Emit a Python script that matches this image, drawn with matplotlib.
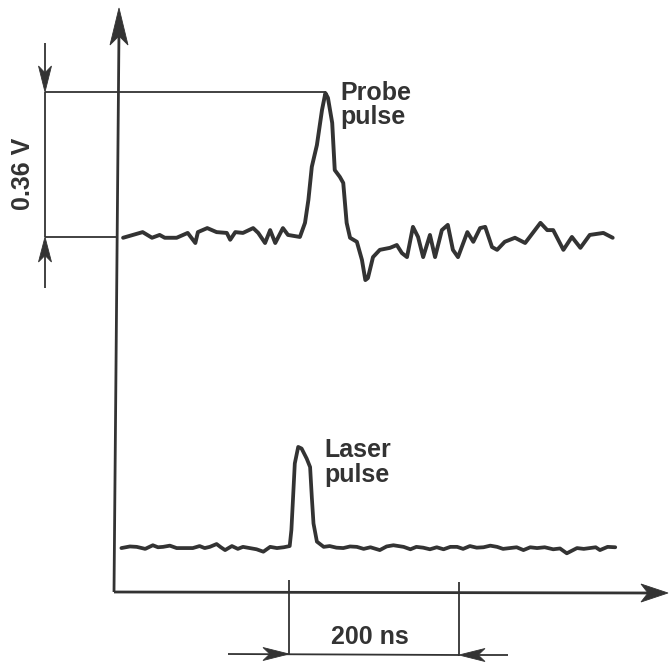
import matplotlib
matplotlib.use('Agg')
from matplotlib import pyplot as plt
from matplotlib.patches import Polygon
import numpy as np

# probe pulse: time (ns) and voltage relative to its baseline (V)
probe_t = [6, 29, 40, 49, 55, 69, 82, 91, 94, 105, 116, 128, 132, 138, 147, 159, 165, 173,
           179, 185, 194, 200, 214, 220, 224, 228, 234, 240, 244, 247, 252, 255, 261, 265,
           269, 273, 281, 287, 291, 294, 300, 308, 320, 328, 334, 340, 347, 353, 359, 367,
           373, 381, 388, 394, 400, 411, 418, 426, 432, 440, 446, 455, 467, 479, 497, 505,
           512, 524, 534, 544, 555, 571, 582]
probe_v = [-0.002, 0.012, -0.002, 0.005, -0.002, -0.002, 0.010, -0.015, 0.012, 0.022, 0.012,
           0.010, -0.007, 0.012, 0.010, 0.022, 0.010, -0.015, 0.017, -0.015, 0.022, 0.005,
           0.000, 0.035, 0.092, 0.174, 0.228, 0.315, 0.357, 0.345, 0.283, 0.166, 0.149,
           0.134, 0.035, -0.002, -0.012, -0.057, -0.107, -0.102, -0.050, -0.032, -0.027,
           -0.020, -0.040, -0.050, 0.025, 0.000, -0.050, 0.005, -0.050, 0.017, 0.030,
           -0.032, -0.050, 0.012, -0.012, 0.022, 0.025, -0.025, -0.032, -0.012, -0.002,
           -0.015, 0.035, 0.017, 0.017, -0.032, 0.000, -0.027, 0.005, 0.010, -0.002]

# laser pulse: time (ns) and signal relative to its baseline
laser_t = [4, 14, 22, 32, 41, 47, 53, 61, 69, 79, 88, 96, 102, 108, 116, 121, 126, 134,
           141, 147, 155, 163, 171, 179, 187, 195, 202, 204, 206, 208, 212, 216, 222, 226,
           228, 230, 234, 242, 249, 257, 265, 273, 281, 289, 297, 308, 316, 324, 336, 344,
           351, 359, 367, 375, 383, 391, 399, 406, 414, 422, 430, 438, 446, 453, 461, 469,
           477, 485, 493, 502, 512, 520, 528, 540, 548, 555, 562, 567, 576, 585]
laser_v = [0.000, 0.004, 0.003, -0.002, 0.007, 0.002, 0.003, 0.006, 0.000, 0.000, 0.000,
           0.005, 0.000, 0.003, 0.010, 0.002, -0.005, 0.005, -0.002, 0.003, 0.000, -0.003,
           -0.009, 0.003, 0.000, 0.002, 0.005, 0.045, 0.127, 0.210, 0.251, 0.247, 0.222,
           0.201, 0.127, 0.061, 0.016, 0.003, 0.005, 0.001, 0.000, 0.004, 0.003, -0.002,
           0.002, -0.005, 0.004, 0.007, 0.003, -0.003, 0.003, 0.001, -0.003, 0.002,
           -0.003, 0.003, 0.003, -0.002, 0.005, 0.001, 0.002, 0.006, 0.003, -0.002, 0.000,
           0.002, -0.005, 0.002, 0.000, 0.002, -0.003, -0.001, -0.013, 0.000, -0.002,
           0.000, 0.002, -0.005, 0.003, 0.002]

PROBE_LEVEL = 0.881
LASER_LEVEL = 0.109
INK = '#333333'

# pixel -> data helpers for the hand-drawn annotation parts
X0, SX, Y0, SY = 118, 0.85, 592, 403


def px(x, y):
    return (x - X0) / SX, (Y0 - y) / SY


def head(ax, tip, back, half):
    # barbed arrow head from pixel tip pointing away from back
    tx, ty = tip
    bx, by = back
    d = np.array([tx - bx, ty - by], float)
    L = np.hypot(*d)
    u = d / L
    n = np.array([-u[1], u[0]])
    p1 = np.array(tip, float)
    p2 = np.array(back, float) + n * half - u * 2
    p3 = np.array(back, float) + u * L * 0.2
    p4 = np.array(back, float) - n * half - u * 2
    pts = [px(*p) for p in (p1, p2, p3, p4)]
    ax.add_patch(Polygon(pts, closed=True, color=INK, lw=0.6, zorder=5))


def seg(ax, x1, y1, x2, y2, lw=1.3):
    a = px(x1, y1)
    b = px(x2, y2)
    ax.plot([a[0], b[0]], [a[1], b[1]], color=INK, lw=lw, solid_capstyle='butt')


fig = plt.figure(figsize=(6.7, 6.62), dpi=100)
ax = fig.add_axes([0, 0, 1, 1])
ax.set_xlim(px(0, 0)[0], px(670, 0)[0])
ax.set_ylim(px(0, 662)[1], px(0, 0)[1])
ax.axis('off')

ax.plot(probe_t, np.array(probe_v) + PROBE_LEVEL, color=INK, lw=2.8,
        solid_joinstyle='round', solid_capstyle='round')
ax.plot(laser_t, np.array(laser_v) + LASER_LEVEL, color=INK, lw=2.7,
        solid_joinstyle='round', solid_capstyle='round')

# axes
seg(ax, 114, 592, 119, 30, lw=2.0)
head(ax, (119, 8), (119, 43), 9)
seg(ax, 114, 592, 650, 593, lw=2.0)
head(ax, (668, 593), (643, 593), 9)

# 0.36 V marker
seg(ax, 45, 92, 326, 92)
seg(ax, 45, 237, 117, 237)
seg(ax, 45, 92, 45, 237)
seg(ax, 45, 43, 45, 80)
head(ax, (45, 92), (45, 68), 6.5)
seg(ax, 45, 250, 45, 288)
head(ax, (45, 237), (45, 260), 6.5)

# 200 ns marker
seg(ax, 289, 580, 289, 655)
seg(ax, 459, 582, 459, 656)
seg(ax, 228, 654, 459, 655)
head(ax, (289, 654), (265, 654), 6.5)
seg(ax, 470, 655, 508, 655)
head(ax, (459, 655), (483, 655), 6.5)

font = dict(family=['Liberation Sans', 'DejaVu Sans'], fontweight='bold', fontsize=18,
            color=INK)
ax.text(*px(340, 100), 'Probe', ha='left', va='baseline', **font)
ax.text(*px(340, 124), 'pulse', ha='left', va='baseline', **font)
ax.text(*px(324, 457), 'Laser', ha='left', va='baseline', **font)
ax.text(*px(324, 482), 'pulse', ha='left', va='baseline', **font)
ax.text(*px(370, 644), '200 ns', ha='center', va='baseline', **font)
ax.text(*px(23, 174), '0.36 V', ha='center', va='center', rotation=90, **font)

fig.savefig('out.png', dpi=100)
